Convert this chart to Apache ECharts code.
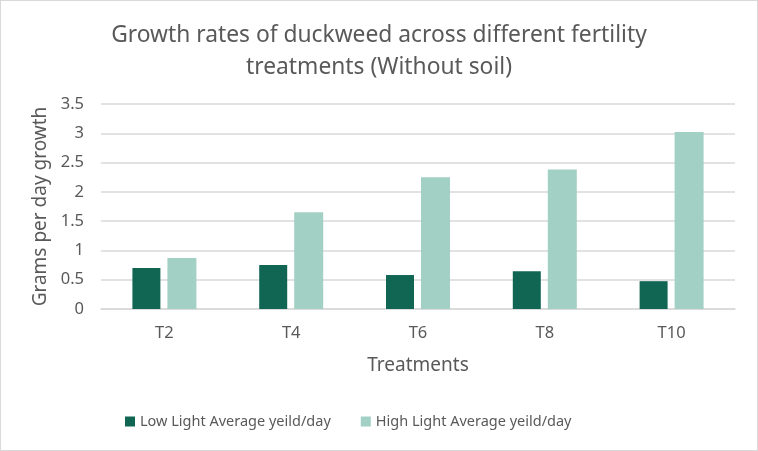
<!DOCTYPE html>
<html>
<head>
<meta charset="utf-8">
<script src="https://cdn.jsdelivr.net/npm/echarts@6/dist/echarts.min.js"></script>
<style>
html,body{margin:0;padding:0;background:#fff;}
#c{width:758px;height:451px;box-sizing:border-box;border:1px solid #d9d9d9;}
</style>
</head>
<body>
<div id="c"></div>
<script>
const categories = ['T2', 'T4', 'T6', 'T8', 'T10'];
const lowLight = [0.70, 0.75, 0.58, 0.645, 0.475];
const highLight = [0.87, 1.65, 2.25, 2.38, 3.02];
const seriesNames = ['Low Light Average yeild/day', 'High Light Average yeild/day'];
const titleText = 'Growth rates of duckweed across different fertility\ntreatments (Without soil)';

const chart = echarts.init(document.getElementById('c'), null, {renderer: 'canvas'});
const font = 'Noto Sans';
chart.setOption({
  animation: false,
  textStyle: {fontFamily: font},
  title: {
    text: titleText,
    left: 'center',
    top: 14,
    textStyle: {fontFamily: font, fontSize: 22.8, fontWeight: 'normal', color: '#595959', lineHeight: 32}
  },
  legend: {
    data: seriesNames,
    top: 408,
    left: 119,
    itemWidth: 10,
    itemHeight: 10,
    itemGap: 30,
    icon: 'rect',
    textStyle: {fontFamily: font, fontSize: 14.5, color: '#595959'}
  },
  grid: {left: 100, right: 22, top: 103, bottom: 141},
  xAxis: {
    type: 'category',
    data: categories,
    name: 'Treatments',
    nameLocation: 'middle',
    nameGap: 47,
    nameTextStyle: {fontFamily: font, fontSize: 19, color: '#595959'},
    axisLine: {lineStyle: {color: '#d9d9d9', width: 1.5}},
    axisTick: {show: false},
    axisLabel: {fontFamily: font, fontSize: 16.5, color: '#595959', margin: 16}
  },
  yAxis: {
    type: 'value',
    min: 0,
    max: 3.5,
    interval: 0.5,
    name: 'Grams per day growth',
    nameLocation: 'middle',
    nameGap: 51,
    nameTextStyle: {fontFamily: font, fontSize: 19, color: '#595959'},
    axisLine: {show: false},
    axisTick: {show: false},
    splitLine: {lineStyle: {color: '#d9d9d9', width: 1.5}},
    axisLabel: {fontFamily: font, fontSize: 16.5, color: '#595959', margin: 17}
  },
  series: [
    {name: seriesNames[0], type: 'bar', data: lowLight, barWidth: 28, barGap: '25%', itemStyle: {color: '#106653'}},
    {name: seriesNames[1], type: 'bar', data: highLight, barWidth: 29, itemStyle: {color: '#a3d0c4'}}
  ]
});
</script>
</body>
</html>
